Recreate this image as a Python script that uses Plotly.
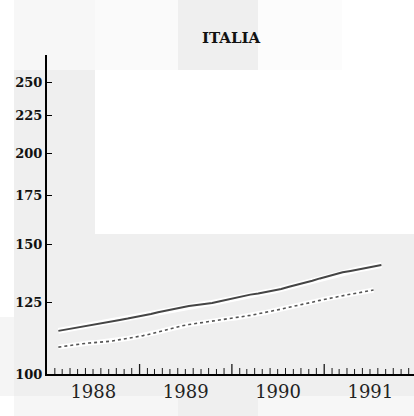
import plotly.graph_objects as go
import pandas as pd

title_text = "ITALIA"
solid_start = "1988-01-15"
dotted_start = "1988-01-15"
solid_values = [114.5, 115.0, 115.5, 116.0, 116.6, 117.0, 117.5, 118.0, 118.5, 119.0, 119.5, 120.1,
                120.7, 121.4, 122.0, 122.7, 123.4, 123.8, 124.2, 124.6, 125.0, 125.7, 126.4, 127.1,
                127.8, 128.3, 128.8, 129.3, 129.8, 130.6, 131.5, 132.3, 133.1, 134.0, 135.0, 136.0,
                136.9, 137.6, 138.2, 138.9, 139.5, 140.1, 140.8]
dotted_values = [108.8, 109.2, 109.5, 109.9, 110.2, 110.4, 110.7, 110.9, 111.4, 111.8, 112.3, 112.8,
                 113.4, 114.1, 114.8, 115.6, 116.3, 116.8, 117.2, 117.7, 118.1, 118.5, 118.9, 119.2,
                 119.6, 120.2, 120.8, 121.3, 121.9, 122.6, 123.3, 123.9, 124.6, 125.3, 126.0, 126.7,
                 127.4, 127.9, 128.5, 129.0, 129.6, 130.2]
y_tick_values = [100, 125, 150, 175, 200, 225, 250]
y_tick_labels = ["100", "125", "150", "175", "200", "225", "250"]

solid_dates = pd.date_range(solid_start, periods=len(solid_values), freq="MS") + pd.Timedelta(days=14)
dotted_dates = pd.date_range(dotted_start, periods=len(dotted_values), freq="MS") + pd.Timedelta(days=14)

W, H = 414, 416
L, R, T, B = 47, 0, 55, 42
pw, ph = W - L - R, H - T - B
x_range = ["1988-01-01", "1991-12-22"]
month_ticks = pd.date_range("1988-02-01", "1991-12-01", freq="MS")


def px2paper(x0, y0, x1, y1):
    return dict(x0=(x0 - L) / pw, x1=(x1 - L) / pw,
                y0=(H - B - y0) / ph, y1=(H - B - y1) / ph)


blocks = [
    (14, 0, 95, 70, "#f7f7f7"),
    (95, 0, 178, 70, "#fafafa"),
    (178, 0, 258, 70, "#efefef"),
    (258, 0, 342, 70, "#fcfcfc"),
    (14, 70, 95, 396, "#efefef"),
    (0, 317, 14, 396, "#f5f5f5"),
    (95, 234, 414, 396, "#efefef"),
    (14, 396, 178, 416, "#f6f6f6"),
    (178, 396, 258, 416, "#efefef"),
    (258, 396, 414, 416, "#f7f7f7"),
]
shapes = []
for x0, y0, x1, y1, c in blocks:
    d = px2paper(x0, y0, x1, y1)
    shapes.append(dict(type="rect", xref="paper", yref="paper", layer="below",
                       line=dict(width=0), fillcolor=c, **d))
# monthly minor tick marks along the time axis
for i, t in enumerate(month_ticks):
    tl = 10 if t.month == 1 else (6 if i % 2 == 0 else 5)
    shapes.append(dict(type="line", xref="x", yref="paper", layer="above",
                       x0=t, x1=t, y0=0, y1=tl / ph,
                       line=dict(color="#1a1a1a", width=1.3 if t.month == 1 else 1)))

fig = go.Figure()
fig.add_trace(go.Scatter(x=solid_dates, y=solid_values, mode="lines",
                         line=dict(color="white", width=6), hoverinfo="skip", showlegend=False))
fig.add_trace(go.Scatter(x=dotted_dates, y=dotted_values, mode="lines",
                         line=dict(color="white", width=5), hoverinfo="skip", showlegend=False))
fig.add_trace(go.Scatter(x=solid_dates, y=solid_values, mode="lines",
                         line=dict(color="#454545", width=2), showlegend=False))
fig.add_trace(go.Scatter(x=dotted_dates, y=dotted_values, mode="lines",
                         line=dict(color="#555555", width=1.6, dash="dot"), showlegend=False))

fig.update_layout(
    width=W, height=H,
    margin=dict(l=L, r=R, t=T, b=B, autoexpand=False),
    paper_bgcolor="white",
    plot_bgcolor="rgba(0,0,0,0)",
    shapes=shapes,
    title=dict(text=title_text, x=(231 - L) / pw, xref="paper", xanchor="center",
               y=1 - 38 / H, yanchor="middle", automargin=False,
               font=dict(family="DejaVu Serif", size=15, color="#111", weight="bold")),
    xaxis=dict(
        type="date", automargin=False,
        range=x_range,
        dtick="M12", tick0="1988-01-01",
        tickformat="%Y", ticklabelmode="period",
        ticks="", 
        showline=True, linecolor="black", linewidth=2,
        showgrid=False, zeroline=False,
        tickfont=dict(family="DejaVu Serif", size=18, color="#222"),
    ),
    yaxis=dict(
        type="log", automargin=False,
        range=[2, 2.435],
        tickvals=y_tick_values, ticktext=y_tick_labels,
        ticks="inside", ticklen=5, tickwidth=1, tickcolor="black",
        showline=True, linecolor="black", linewidth=2,
        showgrid=False, zeroline=False,
        tickfont=dict(family="DejaVu Serif", size=13, color="#111", weight="bold"),
    ),
)

fig.write_html("out.html",
               config={"displayModeBar": False},
               post_script="document.body.style.margin='0';document.body.style.overflow='hidden';")
